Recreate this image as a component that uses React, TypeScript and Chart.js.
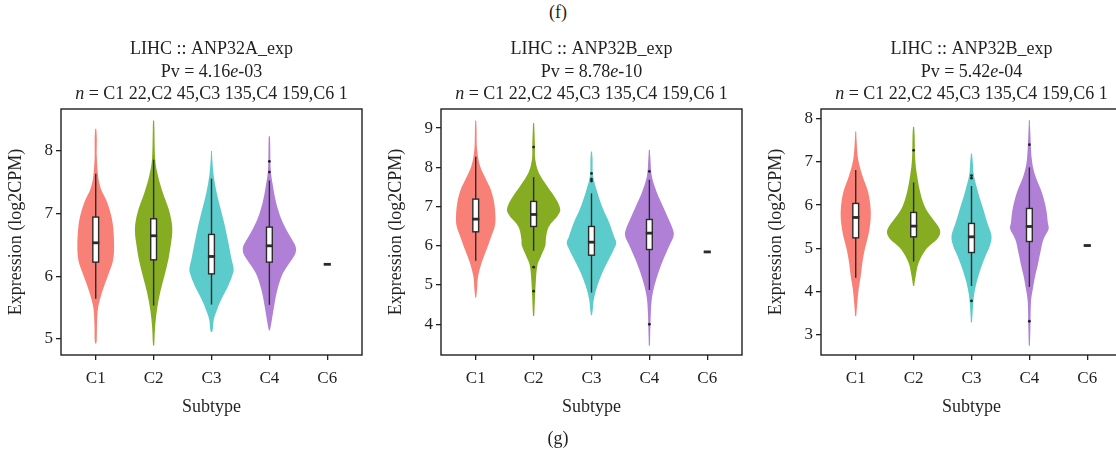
import React, { useEffect, useRef } from 'react';
import { Chart, registerables } from 'chart.js';

Chart.register(...registerables);

// ---------- shared categories and styling ----------
const SUBTYPES = ['C1', 'C2', 'C3', 'C4', 'C6'];
const FILLS = ['#F98077', '#86AD22', '#5CCBCB', '#AF80D5'];
const INK = '#231f20';
const FONT = 'Liberation Serif';
const N_LINE = ' = C1 22,C2 45,C3 135,C4 159,C6 1';

// Violin outlines: [expression value, relative density]
// ---------- ANP32A ----------
const A_TICKS = [5, 6, 7, 8];
const A_RANGE = [4.745, 8.665];
const A_C1: [number, number][] = [[8.35, 0.02], [8.2, 0.04], [7.9, 0.04], [7.6, 0.09], [7.4, 0.19], [7.2, 0.41], [7.0, 0.56], [6.8, 0.65], [6.5, 0.69], [6.25, 0.65], [6.0, 0.45], [5.75, 0.24], [5.5, 0.09], [5.25, 0.05], [5.0, 0.04], [4.93, 0.02]];
const A_C2: [number, number][] = [[8.48, 0.02], [8.35, 0.03], [7.87, 0.06], [7.61, 0.16], [7.34, 0.34], [7.08, 0.56], [6.86, 0.68], [6.7, 0.7], [6.54, 0.66], [6.28, 0.56], [6.01, 0.41], [5.75, 0.25], [5.48, 0.13], [5.21, 0.06], [4.95, 0.03], [4.895, 0.02]];
const A_C3: [number, number][] = [[7.995, 0.02], [7.87, 0.03], [7.61, 0.08], [7.34, 0.19], [7.08, 0.34], [6.81, 0.5], [6.54, 0.63], [6.28, 0.75], [6.12, 0.83], [6.01, 0.78], [5.85, 0.63], [5.64, 0.38], [5.48, 0.22], [5.32, 0.09], [5.16, 0.05], [5.11, 0.02]];
const A_C4: [number, number][] = [[8.23, 0.02], [8.14, 0.03], [7.71, 0.05], [7.45, 0.13], [7.18, 0.25], [6.92, 0.44], [6.7, 0.69], [6.54, 0.91], [6.44, 1.0], [6.33, 0.94], [6.17, 0.69], [6.01, 0.47], [5.75, 0.28], [5.48, 0.16], [5.27, 0.08], [5.135, 0.02]];
const A_Q1 = [6.225, 6.262, 6.038, 6.225, 6.19];
const A_MED = [6.533, 6.645, 6.315, 6.485, 6.19];
const A_Q3 = [6.943, 6.916, 6.666, 6.783, 6.19];
const A_LO = [5.64, 5.533, 5.549, 5.544, 6.19];
const A_HI = [7.633, 7.857, 7.554, 7.527, 6.19];
const A_OUTLIERS: [number, number][] = [[3, 7.83], [3, 7.66]];

// ---------- ANP32B (first) ----------
const B_TICKS = [4, 5, 6, 7, 8, 9];
const B_RANGE = [3.217, 9.485];
const B_C1: [number, number][] = [[9.19, 0.02], [8.97, 0.03], [8.46, 0.05], [8.04, 0.16], [7.7, 0.38], [7.44, 0.56], [7.11, 0.69], [6.76, 0.74], [6.51, 0.72], [6.25, 0.59], [5.91, 0.41], [5.57, 0.22], [5.23, 0.09], [4.89, 0.05], [4.68, 0.02]];
const B_C2: [number, number][] = [[9.13, 0.02], [8.97, 0.03], [8.55, 0.05], [8.21, 0.06], [7.87, 0.19], [7.53, 0.5], [7.19, 0.84], [6.93, 1.0], [6.76, 0.9], [6.59, 0.68], [6.42, 0.53], [6.17, 0.46], [6.0, 0.44], [5.74, 0.28], [5.49, 0.14], [5.06, 0.08], [4.64, 0.05], [4.3, 0.03], [4.21, 0.02]];
const B_C3: [number, number][] = [[8.405, 0.02], [8.21, 0.04], [7.78, 0.06], [7.36, 0.22], [6.93, 0.44], [6.6, 0.66], [6.25, 0.84], [6.08, 0.93], [5.91, 0.84], [5.66, 0.66], [5.32, 0.41], [4.98, 0.22], [4.64, 0.09], [4.38, 0.05], [4.23, 0.02]];
const B_C4: [number, number][] = [[8.44, 0.02], [8.21, 0.04], [7.78, 0.09], [7.36, 0.28], [7.02, 0.5], [6.68, 0.72], [6.42, 0.88], [6.25, 0.91], [6.0, 0.75], [5.66, 0.53], [5.32, 0.34], [4.98, 0.19], [4.64, 0.09], [4.21, 0.05], [3.7, 0.03], [3.45, 0.02]];
const B_Q1 = [6.356, 6.492, 5.76, 5.905, 5.844];
const B_MED = [6.679, 6.798, 6.092, 6.322, 5.844];
const B_Q3 = [7.189, 7.13, 6.492, 6.67, 5.844];
const B_LO = [5.616, 5.871, 4.808, 4.876, 5.844];
const B_HI = [8.269, 7.75, 7.334, 7.682, 5.844];
const B_OUTLIERS: [number, number][] = [[1, 8.516], [1, 5.454], [1, 4.842], [2, 7.844], [2, 7.7], [2, 7.65], [3, 7.895], [3, 4.0]];

// ---------- ANP32B (second) ----------
const C_TICKS = [3, 4, 5, 6, 7, 8];
const C_RANGE = [2.538, 8.217];
const C_C1: [number, number][] = [[7.7, 0.02], [7.52, 0.03], [7.06, 0.09], [6.68, 0.25], [6.29, 0.47], [5.91, 0.56], [5.6, 0.55], [5.29, 0.47], [4.98, 0.34], [4.67, 0.25], [4.37, 0.19], [4.06, 0.11], [3.75, 0.06], [3.43, 0.02]];
const C_C2: [number, number][] = [[7.81, 0.02], [7.6, 0.04], [7.06, 0.06], [6.68, 0.13], [6.29, 0.25], [5.98, 0.41], [5.75, 0.63], [5.52, 0.91], [5.37, 1.0], [5.21, 0.88], [4.98, 0.47], [4.67, 0.19], [4.37, 0.08], [4.13, 0.02]];
const C_C3: [number, number][] = [[7.19, 0.02], [6.98, 0.05], [6.68, 0.09], [6.29, 0.25], [5.91, 0.44], [5.6, 0.59], [5.29, 0.75], [5.06, 0.69], [4.83, 0.53], [4.52, 0.34], [4.21, 0.19], [3.9, 0.09], [3.59, 0.05], [3.29, 0.02]];
const C_C4: [number, number][] = [[7.96, 0.02], [7.75, 0.03], [7.06, 0.09], [6.68, 0.22], [6.29, 0.47], [5.91, 0.63], [5.6, 0.69], [5.44, 0.72], [5.21, 0.53], [4.9, 0.41], [4.6, 0.31], [4.37, 0.22], [4.06, 0.13], [3.75, 0.06], [3.21, 0.04], [2.75, 0.02]];
const C_Q1 = [5.243, 5.266, 4.904, 5.158, 5.065];
const C_MED = [5.713, 5.513, 5.266, 5.505, 5.065];
const C_Q3 = [6.037, 5.829, 5.575, 5.921, 5.065];
const C_LO = [4.319, 4.696, 4.134, 4.11, 5.065];
const C_HI = [6.807, 6.522, 6.437, 6.869, 5.065];
const C_OUTLIERS: [number, number][] = [[1, 7.262], [2, 6.68], [2, 6.62], [2, 3.787], [3, 7.393], [3, 3.317]];

const VIOLIN_HALF = 0.46; // half-width (category units) at density 1
const BOX_HALF = 0.05;

type Seg = { t: string; italic?: boolean };
type PanelSpec = {
  gene: string;
  pv: string;
  pexp: string;
  ticks: number[];
  range: number[];
  violins: [number, number][][];
  q1: number[];
  med: number[];
  q3: number[];
  lo: number[];
  hi: number[];
  outliers: [number, number][];
};

const PANELS: PanelSpec[] = [
  { gene: 'LIHC :: ANP32A_exp', pv: '4.16', pexp: '-03', ticks: A_TICKS, range: A_RANGE, violins: [A_C1, A_C2, A_C3, A_C4], q1: A_Q1, med: A_MED, q3: A_Q3, lo: A_LO, hi: A_HI, outliers: A_OUTLIERS },
  { gene: 'LIHC :: ANP32B_exp', pv: '8.78', pexp: '-10', ticks: B_TICKS, range: B_RANGE, violins: [B_C1, B_C2, B_C3, B_C4], q1: B_Q1, med: B_MED, q3: B_Q3, lo: B_LO, hi: B_HI, outliers: B_OUTLIERS },
  { gene: 'LIHC :: ANP32B_exp', pv: '5.42', pexp: '-04', ticks: C_TICKS, range: C_RANGE, violins: [C_C1, C_C2, C_C3, C_C4], q1: C_Q1, med: C_MED, q3: C_Q3, lo: C_LO, hi: C_HI, outliers: C_OUTLIERS },
];

const CANVAS_W = 375;
const CANVAS_H = 459;
const PANEL_LEFT = [0, 380, 760];

type Pt = { x: number; y: number };

function smoothThrough(ctx: CanvasRenderingContext2D, pts: Pt[]) {
  for (let i = 0; i < pts.length - 1; i++) {
    const p0 = pts[i - 1] || pts[i];
    const p1 = pts[i];
    const p2 = pts[i + 1];
    const p3 = pts[i + 2] || p2;
    ctx.bezierCurveTo(
      p1.x + (p2.x - p0.x) / 6, p1.y + (p2.y - p0.y) / 6,
      p2.x - (p3.x - p1.x) / 6, p2.y - (p3.y - p1.y) / 6,
      p2.x, p2.y
    );
  }
}

function violinBoxPlugin(spec: PanelSpec) {
  return {
    id: 'violinBox',
    beforeDatasetsDraw(chart: any) {
      const { ctx, chartArea, scales } = chart;
      const x = scales.x;
      const y = scales.y;
      ctx.save();
      ctx.beginPath();
      ctx.rect(chartArea.left, chartArea.top, chartArea.right - chartArea.left, chartArea.bottom - chartArea.top);
      ctx.clip();

      spec.violins.forEach((prof, i) => {
        const right = prof.map(([v, d]) => ({ x: x.getPixelForValue(i + d * VIOLIN_HALF), y: y.getPixelForValue(v) }));
        const left = prof.slice().reverse().map(([v, d]) => ({ x: x.getPixelForValue(i - d * VIOLIN_HALF), y: y.getPixelForValue(v) }));
        ctx.beginPath();
        ctx.moveTo(right[0].x, right[0].y);
        smoothThrough(ctx, right);
        ctx.lineTo(left[0].x, left[0].y);
        smoothThrough(ctx, left);
        ctx.closePath();
        ctx.fillStyle = FILLS[i];
        ctx.fill();
      });

      for (let i = 0; i < SUBTYPES.length; i++) {
        const cx = x.getPixelForValue(i);
        const xl = x.getPixelForValue(i - BOX_HALF);
        const xr = x.getPixelForValue(i + BOX_HALF);
        const yq1 = y.getPixelForValue(spec.q1[i]);
        const yq3 = y.getPixelForValue(spec.q3[i]);
        const ym = y.getPixelForValue(spec.med[i]);
        ctx.strokeStyle = '#2b2b2b';
        ctx.lineWidth = 1.4;
        ctx.beginPath();
        ctx.moveTo(cx, y.getPixelForValue(spec.hi[i]));
        ctx.lineTo(cx, y.getPixelForValue(spec.lo[i]));
        ctx.stroke();
        ctx.fillStyle = '#ffffff';
        ctx.fillRect(xl, yq3, xr - xl, yq1 - yq3);
        ctx.strokeRect(xl, yq3, xr - xl, yq1 - yq3);
        ctx.lineWidth = 2.8;
        ctx.beginPath();
        ctx.moveTo(xl - 0.7, ym);
        ctx.lineTo(xr + 0.7, ym);
        ctx.stroke();
      }
      ctx.restore();
    },
    afterDraw(chart: any) {
      const { ctx, chartArea } = chart;
      ctx.save();
      ctx.strokeStyle = INK;
      ctx.lineWidth = 1.4;
      ctx.strokeRect(chartArea.left, chartArea.top, chartArea.right - chartArea.left, chartArea.bottom - chartArea.top);

      // three-line panel heading with italic symbols
      const lines: Seg[][] = [
        [{ t: spec.gene }],
        [{ t: 'Pv = ' + spec.pv }, { t: 'e', italic: true }, { t: spec.pexp }],
        [{ t: 'n', italic: true }, { t: N_LINE }],
      ];
      const cx = (chartArea.left + chartArea.right) / 2;
      ctx.fillStyle = INK;
      ctx.textBaseline = 'alphabetic';
      ctx.textAlign = 'left';
      lines.forEach((segs, li) => {
        const fontOf = (s: Seg) => `${s.italic ? 'italic ' : ''}18px "${FONT}"`;
        let total = 0;
        segs.forEach((s) => { ctx.font = fontOf(s); total += ctx.measureText(s.t).width; });
        let xx = cx - total / 2;
        const yy = chartArea.top - 54.7 + li * 22.3;
        segs.forEach((s) => {
          ctx.font = fontOf(s);
          ctx.fillText(s.t, xx, yy);
          xx += ctx.measureText(s.t).width;
        });
      });
      ctx.restore();
    },
  };
}

function buildConfig(spec: PanelSpec): any {
  const tickFont = { family: FONT, size: 17 };
  const titleFont = { family: FONT, size: 18 };
  return {
    type: 'scatter',
    data: {
      datasets: [
        {
          data: spec.outliers.map(([i, v]) => ({ x: i, y: v })),
          pointRadius: 1.4,
          pointBackgroundColor: '#222',
          pointBorderWidth: 0,
          showLine: false,
        },
      ],
    },
    options: {
      animation: false,
      responsive: false,
      maintainAspectRatio: false,
      events: [],
      layout: { padding: { top: 109, left: 0, right: 13, bottom: 0 } },
      plugins: { legend: { display: false }, tooltip: { enabled: false }, title: { display: false } },
      scales: {
        x: {
          type: 'linear',
          min: -0.6,
          max: 4.6,
          afterBuildTicks: (s: any) => { s.ticks = SUBTYPES.map((_, i) => ({ value: i })); },
          afterFit: (s: any) => { s.height = 104; },
          ticks: {
            callback: (v: any) => SUBTYPES[Math.round(Number(v))],
            font: tickFont,
            color: INK,
            padding: 8,
            autoSkip: false,
            maxRotation: 0,
          },
          grid: { drawOnChartArea: false, drawTicks: true, tickLength: 5, color: INK, lineWidth: 1.3 },
          border: { display: false },
          title: { display: true, text: 'Subtype', font: titleFont, color: INK, padding: { top: 0, bottom: 41 } },
        },
        y: {
          type: 'linear',
          min: spec.range[0],
          max: spec.range[1],
          afterBuildTicks: (s: any) => { s.ticks = spec.ticks.map((v) => ({ value: v })); },
          afterFit: (s: any) => { s.width = 61; },
          ticks: { font: tickFont, color: INK, padding: 3, callback: (v: any) => String(v) },
          grid: { drawOnChartArea: false, drawTicks: true, tickLength: 5, color: INK, lineWidth: 1.3 },
          border: { display: false },
          title: { display: true, text: 'Expression (log2CPM)', font: titleFont, color: INK, padding: { top: 5, bottom: 0 } },
        },
      },
    },
    plugins: [violinBoxPlugin(spec)],
  };
}

function ViolinPanel({ spec, left }: { spec: PanelSpec; left: number }) {
  const ref = useRef<HTMLCanvasElement | null>(null);
  useEffect(() => {
    if (!ref.current) return;
    const chart = new Chart(ref.current, buildConfig(spec));
    return () => chart.destroy();
  }, [spec]);
  return (
    <canvas
      ref={ref}
      width={CANVAS_W}
      height={CANVAS_H}
      style={{ position: 'absolute', left, top: 0, width: CANVAS_W, height: CANVAS_H }}
    />
  );
}

const captionStyle: React.CSSProperties = {
  position: 'absolute',
  left: 0,
  width: 1116,
  textAlign: 'center',
  fontFamily: FONT,
  fontSize: 18,
  lineHeight: '24px',
  color: INK,
};

export default function App() {
  return (
    <div style={{ position: 'absolute', left: 0, top: 0, width: 1116, height: 459, overflow: 'hidden', background: '#fff' }}>
      <div style={{ ...captionStyle, top: 0 }}>(f)</div>
      {PANELS.map((p, i) => (
        <ViolinPanel key={i} spec={p} left={PANEL_LEFT[i]} />
      ))}
      <div style={{ ...captionStyle, top: 426 }}>(g)</div>
    </div>
  );
}
